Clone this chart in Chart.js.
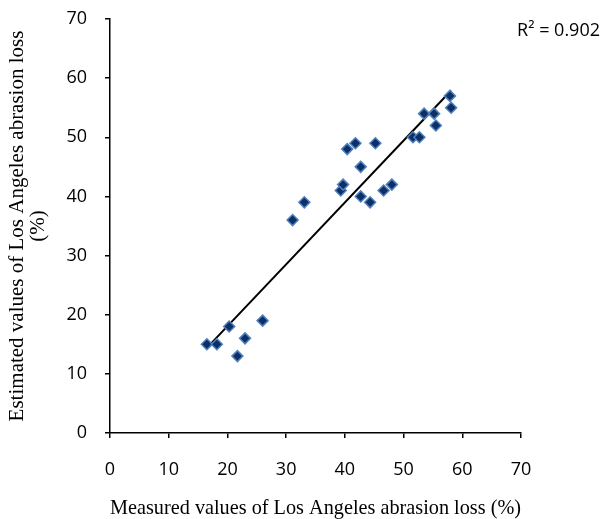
<!DOCTYPE html>
<html>
<head>
<meta charset="utf-8">
<script src="https://cdn.jsdelivr.net/npm/chart.js@4.4.0/dist/chart.umd.min.js"></script>
<style>
  html, body { margin: 0; padding: 0; background: #fff; }
  #wrap { width: 605px; height: 519px; }
</style>
</head>
<body>
<div id="wrap"><canvas id="chart" width="605" height="519"></canvas></div>
<script>
// measured (x) vs estimated (y) values
const measured = [16.5, 18.2, 20.3, 21.7, 23.0, 26.0, 31.1, 33.1, 39.3, 39.7, 40.4, 41.8,
  42.7, 42.7, 44.3, 45.2, 46.6, 48.0, 51.6, 52.7, 53.5, 55.2, 55.5, 57.9, 58.1];
const estimated = [15, 15, 18, 13, 16, 19, 36, 39, 41, 42, 48, 49,
  45, 40, 39, 49, 41, 42, 50, 50, 54, 54, 52, 57, 55];

// linear trend line end points
const trendX = [16.5, 58.1];
const trendY = [14.4, 57.9];

const axisTicks = [0, 10, 20, 30, 40, 50, 60, 70];
const rSquaredLabel = 'R\u00b2 = 0.902';

const points = measured.map((x, i) => ({ x: x, y: estimated[i] }));
const trend = trendX.map((x, i) => ({ x: x, y: trendY[i] }));

// draws the R² note in the top right corner
const rSquaredNote = {
  id: 'rSquaredNote',
  afterDraw(chart) {
    const ctx = chart.ctx;
    ctx.save();
    ctx.font = '18px "Open Sans", sans-serif';
    ctx.fillStyle = '#000';
    ctx.textAlign = 'right';
    ctx.textBaseline = 'middle';
    ctx.fillText(rSquaredLabel, 600, 31);
    ctx.restore();
  }
};

const tickFont = { family: '"Open Sans", sans-serif', size: 18 };
const titleFont = { family: '"Liberation Serif", "Times New Roman", serif', size: 21, lineHeight: 1.0 };

const axisGrid = {
  display: true,
  drawOnChartArea: false,
  drawTicks: true,
  tickLength: 5,
  color: '#000',
  lineWidth: 1.5
};

new Chart(document.getElementById('chart').getContext('2d'), {
  type: 'scatter',
  data: {
    datasets: [
      {
        label: 'Values',
        data: points,
        pointStyle: 'rectRot',
        pointRadius: 5.5,
        pointBackgroundColor: '#0d2f66',
        pointBorderColor: '#4f81bd',
        pointBorderWidth: 1.5,
        order: 1
      },
      {
        label: 'Trend',
        type: 'line',
        data: trend,
        borderColor: '#000',
        borderWidth: 2,
        pointRadius: 0,
        fill: false,
        order: 2
      }
    ]
  },
  options: {
    responsive: false,
    animation: false,
    layout: { autoPadding: false, padding: { top: 19, right: 84, bottom: 0, left: 0 } },
    plugins: {
      legend: { display: false },
      tooltip: { enabled: false }
    },
    scales: {
      x: {
        type: 'linear',
        min: 0,
        max: 70,
        afterBuildTicks: (axis) => { axis.ticks = axisTicks.map(v => ({ value: v })); },
        afterFit: (axis) => {
          axis.height = 86;
          axis.paddingLeft = 0;
          axis.paddingRight = 0;
        },
        grid: axisGrid,
        border: { color: '#000', width: 1.5 },
        ticks: { font: tickFont, color: '#000', padding: 21, maxRotation: 0 },
        title: {
          display: true,
          text: 'Measured values of Los Angeles abrasion loss (%)',
          font: titleFont,
          color: '#000',
          padding: { top: 0, bottom: 0 }
        }
      },
      y: {
        type: 'linear',
        min: 0,
        max: 70,
        afterBuildTicks: (axis) => { axis.ticks = axisTicks.map(v => ({ value: v })); },
        afterFit: (axis) => {
          axis.width = 110;
          axis.paddingTop = 0;
          axis.paddingBottom = 0;
        },
        grid: axisGrid,
        border: { color: '#000', width: 1.5 },
        ticks: { font: tickFont, color: '#000', padding: 18 },
        title: {
          display: true,
          text: ['Estimated values of Los Angeles abrasion loss', '(%)'],
          font: titleFont,
          color: '#000',
          padding: { top: 7, bottom: 0 }
        }
      }
    }
  },
  plugins: [rSquaredNote]
});
</script>
</body>
</html>
